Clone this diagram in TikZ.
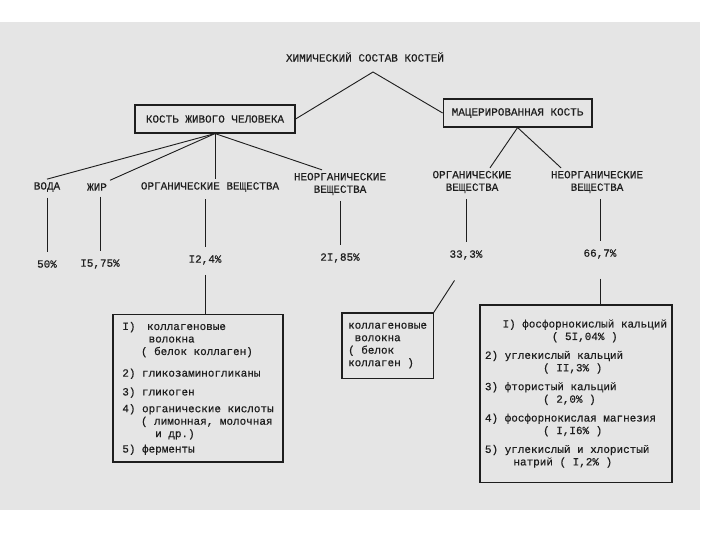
\documentclass[tikz,border=0pt]{standalone}
\usepackage{fontspec}
\setmainfont{Liberation Mono}[FakeBold=0.5]
\usepackage{tikz}
\usetikzlibrary{calc}
\definecolor{paper}{RGB}{229,229,229}
\definecolor{ink}{RGB}{30,30,30}

\begin{document}
\begin{tikzpicture}[
    every node/.style={text=ink, font=\fontsize{7.8}{8.9}\selectfont, inner sep=2pt},
    frame/.style={draw=ink, line width=0.8pt},
    link/.style={draw=ink, line width=0.65pt},
    twolines/.style={align=center}]
    \useasboundingbox (0,0) rectangle (18,-13.5);
    \fill[paper] (0,-0.55) rectangle (17.5,-12.75);

    % Title and the two kinds of bone
    \node (title) at (9.125,-1.425) {ХИМИЧЕСКИЙ СОСТАВ КОСТЕЙ};
    \coordinate (apex) at (9.325,-1.8);
    \node[frame, minimum width=4cm, minimum height=0.7cm] (live) at (5.375,-2.975) {КОСТЬ ЖИВОГО ЧЕЛОВЕКА};
    \node[frame, minimum width=3.72cm, minimum height=0.7cm] (dead) at (12.94,-2.825) {МАЦЕРИРОВАННАЯ КОСТЬ};

    % The components
    \node (water) at (1.175,-4.675) {ВОДА};
    \node (fat) at (2.425,-4.675) {ЖИР};
    \node (orgL) at (5.25,-4.675) {ОРГАНИЧЕСКИЕ ВЕЩЕСТВА};
    \node[twolines] (inorgL) at (8.5,-4.6) {НЕОРГАНИЧЕСКИЕ\\ВЕЩЕСТВА};
    \node[twolines] (orgR) at (11.8,-4.55) {ОРГАНИЧЕСКИЕ\\ВЕЩЕСТВА};
    \node[twolines] (inorgR) at (14.925,-4.55) {НЕОРГАНИЧЕСКИЕ\\ВЕЩЕСТВА};

    % The shares
    \node (p50) at (1.175,-6.6) {50\%};
    \node (p15) at (2.5,-6.6) {I5,75\%};
    \node (p12) at (5.125,-6.5) {I2,4\%};
    \node (p21) at (8.5,-6.45) {2I,85\%};
    \node (p33) at (11.65,-6.375) {33,3\%};
    \node (p66) at (15,-6.35) {66,7\%};

    % The lists
    \node[frame, minimum width=4.25cm, minimum height=3.68cm, align=left] (orglist) at (4.95,-9.71) {%
        I)\hspace{1.05em}коллагеновые\\
        \hspace*{2.4em}волокна\\
        \hspace*{1.7em}( белок коллаген)\\[6.5pt]
        2) гликозаминогликаны\\[4.5pt]
        3) гликоген\\[3pt]
        4) органические кислоты\\
        \hspace*{1.7em}( лимонная, молочная\\
        \hspace*{3em}и др.)\\[2pt]
        5) ферменты};
    \node[frame, minimum width=2.28cm, minimum height=1.63cm, align=left] (collagen) at (9.69,-8.64) {%
        коллагеновые\\
        \hspace*{0.6em}волокна\\
        ( белок\\
        коллаген )};
    \node[frame, minimum width=4.8cm, minimum height=4.43cm, inner sep=1pt, align=left] (minlist) at (14.4,-9.84) {%
        \hspace*{1.6em}I) фосфорнокислый кальций\\
        \hspace*{6.1em}( 5I,04\% )\\[4.5pt]
        2) углекислый кальций\\
        \hspace*{5.3em}( II,3\% )\\[4.5pt]
        3) фтористый кальций\\
        \hspace*{5.3em}( 2,0\% )\\[4.5pt]
        4) фосфорнокислая магнезия\\
        \hspace*{5.3em}( I,I6\% )\\[4.5pt]
        5) углекислый и хлористый\\
        \hspace*{2.6em}натрий ( I,2\% )};

    % The lines!
    \draw[link] (live.east) -- (apex) -- (dead.west);
    \draw[link] (live.south) -- (water.north);
    \draw[link] (live.south) -- (fat.north east);
    \draw[link] (live.south) -- (live.south |- orgL.north);
    \draw[link] (live.south) -- ([xshift=-0.45cm]inorgL.north);
    \draw[link] (dead.south) -- ([xshift=0.45cm]orgR.north);
    \draw[link] (dead.south) -- ([xshift=-0.9cm]inorgR.north);

    \draw[link, shorten <=2pt, shorten >=4pt] (p50.north |- water.south) -- (p50.north);
    \draw[link, shorten <=2pt, shorten >=4pt] (p15.north |- fat.south) -- (p15.north);
    \draw[link, shorten <=3pt, shorten >=4pt] (p12.north |- orgL.south) -- (p12.north);
    \draw[link, shorten <=2pt, shorten >=4pt] (p21.north |- inorgL.south) -- (p21.north);
    \draw[link, shorten <=2pt, shorten >=4pt] (p33.north |- orgR.south) -- (p33.north);
    \draw[link, shorten <=2pt, shorten >=4pt] (p66.north |- inorgR.south) -- (p66.north);

    \draw[link, shorten <=5pt] (p12.south) -- (p12.south |- orglist.north);
    \draw[link, shorten <=15pt] (p33.south) -- (collagen.north east);
    \draw[link, shorten <=12pt] (p66.south) -- (p66.south |- minlist.north);
\end{tikzpicture}
\end{document}
